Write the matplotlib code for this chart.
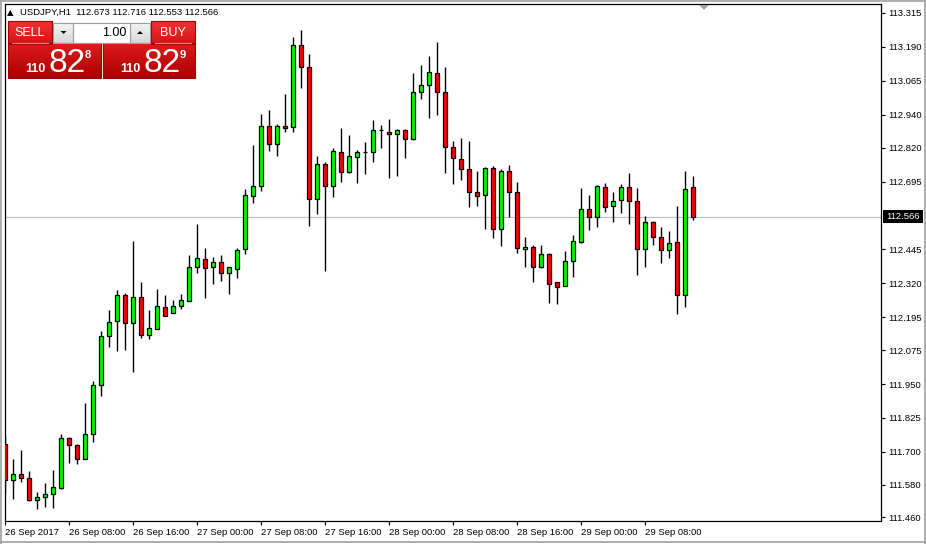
import numpy as np
import pandas as pd
import matplotlib
matplotlib.use("Agg")
import matplotlib.pyplot as plt
from matplotlib.patches import Rectangle, Polygon
from matplotlib.lines import Line2D

# ---------------- data ----------------
symbol = "USDJPY,H1"
start_time = "2017-09-26 00:00"

opens = [111.729, 111.597, 111.619, 111.604, 111.523, 111.534, 111.545, 111.567, 111.751, 111.726,
         111.674, 111.766, 111.946, 112.127, 112.182, 112.278, 112.174, 112.270, 112.130, 112.152,
         112.233, 112.211, 112.237, 112.256, 112.380, 112.410, 112.380, 112.399, 112.358, 112.373,
         112.447, 112.642, 112.679, 112.899, 112.833, 112.899, 112.896, 113.197, 113.116, 112.631,
         112.759, 112.679, 112.804, 112.730, 112.785, 112.804, 112.804, 112.885, 112.877, 112.870,
         112.885, 112.851, 113.024, 113.050, 113.094, 113.024, 112.822, 112.778, 112.741, 112.656,
         112.645, 112.745, 112.520, 112.734, 112.656, 112.447, 112.454, 112.380, 112.428, 112.325,
         112.311, 112.403, 112.472, 112.594, 112.565, 112.675, 112.605, 112.627, 112.675, 112.623,
         112.447, 112.546, 112.491, 112.443, 112.472, 112.278, 112.673]
highs = [111.759, 111.674, 111.707, 111.630, 111.553, 111.586, 111.633, 111.766, 111.755, 111.730,
         111.880, 111.962, 112.146, 112.222, 112.296, 112.285, 112.476, 112.324, 112.222, 112.300,
         112.277, 112.259, 112.281, 112.425, 112.539, 112.450, 112.417, 112.425, 112.382, 112.450,
         112.667, 112.829, 112.943, 112.958, 112.907, 113.017, 113.227, 113.252, 113.164, 112.789,
         112.767, 112.818, 112.892, 112.866, 112.811, 112.840, 112.921, 112.903, 112.925, 112.888,
         112.888, 113.094, 113.124, 113.157, 113.208, 113.116, 112.844, 112.855, 112.844, 112.734,
         112.748, 112.752, 112.741, 112.756, 112.693, 112.491, 112.461, 112.461, 112.432, 112.325,
         112.439, 112.498, 112.671, 112.646, 112.682, 112.690, 112.656, 112.686, 112.726, 112.671,
         112.568, 112.550, 112.528, 112.513, 112.605, 112.734, 112.716]
lows = [111.549, 111.526, 111.589, 111.520, 111.490, 111.497, 111.494, 111.563, 111.659, 111.656,
        111.674, 111.737, 111.907, 112.086, 112.071, 112.075, 111.993, 112.119, 112.116, 112.152,
        112.200, 112.211, 112.226, 112.256, 112.358, 112.267, 112.318, 112.329, 112.281, 112.340,
        112.428, 112.616, 112.660, 112.807, 112.790, 112.877, 112.877, 113.039, 112.531, 112.575,
        112.366, 112.638, 112.693, 112.726, 112.690, 112.723, 112.767, 112.818, 112.708, 112.715,
        112.782, 112.848, 112.999, 112.929, 112.940, 112.726, 112.686, 112.701, 112.601, 112.605,
        112.520, 112.487, 112.458, 112.565, 112.432, 112.380, 112.325, 112.377, 112.248, 112.244,
        112.311, 112.344, 112.469, 112.517, 112.528, 112.583, 112.546, 112.579, 112.539, 112.351,
        112.380, 112.461, 112.395, 112.414, 112.206, 112.233, 112.553]
closes = [111.597, 111.619, 111.604, 111.523, 111.534, 111.545, 111.571, 111.751, 111.726, 111.674,
          111.766, 111.946, 112.127, 112.178, 112.278, 112.174, 112.270, 112.130, 112.156, 112.237,
          112.200, 112.237, 112.259, 112.380, 112.414, 112.377, 112.399, 112.358, 112.380, 112.443,
          112.645, 112.679, 112.899, 112.833, 112.899, 112.892, 113.197, 113.116, 112.631, 112.759,
          112.679, 112.807, 112.730, 112.789, 112.804, 112.803, 112.885, 112.886, 112.870, 112.885,
          112.851, 113.024, 113.050, 113.098, 113.024, 112.822, 112.781, 112.741, 112.656, 112.642,
          112.745, 112.520, 112.734, 112.656, 112.450, 112.454, 112.380, 112.428, 112.318, 112.307,
          112.403, 112.476, 112.594, 112.565, 112.679, 112.601, 112.623, 112.675, 112.623, 112.447,
          112.546, 112.491, 112.443, 112.469, 112.278, 112.667, 112.566]

header_values = ["112.673", "112.716", "112.553", "112.566"]
current_price = 112.566
price_ticks = [113.315, 113.190, 113.065, 112.940, 112.820, 112.695, 112.445, 112.320,
               112.195, 112.075, 111.950, 111.825, 111.700, 111.580, 111.460]
time_tick_labels = ["26 Sep 2017", "26 Sep 08:00", "26 Sep 16:00", "27 Sep 00:00", "27 Sep 08:00",
                    "27 Sep 16:00", "28 Sep 00:00", "28 Sep 08:00", "28 Sep 16:00",
                    "29 Sep 00:00", "29 Sep 08:00"]
time_tick_stamps = ["2017-09-26 00:00", "2017-09-26 08:00", "2017-09-26 16:00", "2017-09-27 00:00",
                    "2017-09-27 08:00", "2017-09-27 16:00", "2017-09-28 00:00", "2017-09-28 08:00",
                    "2017-09-28 16:00", "2017-09-29 00:00", "2017-09-29 08:00"]
sell_price = ("110", "82", "8")
buy_price = ("110", "82", "9")
lot_size = "1.00"

# ---------------- figure ----------------
W, H = 926, 544
fig = plt.figure(figsize=(W / 100, H / 100), dpi=100)
fig.patch.set_facecolor("white")
FONT = "Liberation Sans"
SMALL = 6.8

ax_l, ax_r, ax_t, ax_b = 4.5, 881.5, 4.0, 520.5
ax = fig.add_axes([ax_l / W, 1 - ax_b / H, (ax_r - ax_l) / W, (ax_b - ax_t) / H])
ax.set_facecolor("white")

times = pd.date_range(start_time, periods=len(opens), freq="h")
x = np.arange(len(times))
o = np.array(opens); h = np.array(highs); l = np.array(lows); c = np.array(closes)

# current price line
ax.axhline(current_price, color="#c0c0c0", lw=0.9, zorder=1)

ax.vlines(x, l, h, color="black", lw=1.0, zorder=2)
up = c >= o
body_bottom = np.minimum(o, c)
body_h = np.abs(c - o)
colors = np.where(up, "#00ff00", "#ff0000")
ax.bar(x, body_h, bottom=body_bottom, width=0.5, color=colors, edgecolor="black",
       linewidth=0.9, zorder=3)

px_per_candle = 8.0
ax.set_xlim((ax_l - 5) / px_per_candle, (ax_r - 5) / px_per_candle)
k = 271.8  # px per price unit
ax.set_ylim(113.315 - (ax_b - 13) / k, 113.315 + (13 - ax_t) / k)

for s in ax.spines.values():
    s.set_color("black")
    s.set_linewidth(0.9)

ax.yaxis.tick_right()
ax.set_yticks(price_ticks)
ax.set_yticklabels([f"{v:.3f}" for v in price_ticks], fontsize=SMALL, family=FONT)
ax.tick_params(axis="y", direction="out", length=3, width=0.8, pad=2, colors="black")

tick_pos = [times.get_loc(pd.Timestamp(t)) for t in time_tick_stamps]
ax.set_xticks(tick_pos)
ax.set_xticklabels(time_tick_labels, fontsize=SMALL, family=FONT)
for lbl in ax.get_xticklabels():
    lbl.set_horizontalalignment("left")
ax.tick_params(axis="x", direction="out", length=3, width=0.8, pad=2.5, colors="black")

# current price label
cy = 13 + (113.315 - current_price) * k
fig.patches.append(Rectangle((883 / W, 1 - (cy + 6.5) / H), 40 / W, 13 / H,
                             transform=fig.transFigure, facecolor="black", edgecolor="none", zorder=5))
fig.text(886 / W, 1 - cy / H, f"{current_price:.3f}", color="white", fontsize=SMALL, family=FONT,
         va="center", ha="left", zorder=6)

# window frame lines
for (x0, y0, x1, y1) in [(0, 0.8, W, 0.8), (0.8, 0, 0.8, H), (0, 541.5, W, 541.5), (924.5, 0, 924.5, H)]:
    fig.add_artist(Line2D([x0 / W, x1 / W], [1 - y0 / H, 1 - y1 / H], transform=fig.transFigure,
                          color="#a0a0a0", lw=1.2))

# shift marker
fig.patches.append(Polygon([(699 / W, 1 - 5 / H), (709 / W, 1 - 5 / H), (704 / W, 1 - 10 / H)],
                           closed=True, transform=fig.transFigure, facecolor="#a0a0a0",
                           edgecolor="none"))

# header
fig.text(7 / W, 1 - 12.5 / H, "\u25b2", fontsize=6, family="DejaVu Sans", va="center", ha="left")
fig.text(20 / W, 1 - 12.5 / H, symbol + "  " + " ".join(header_values), fontsize=SMALL,
         family=FONT, va="center", ha="left")


# ---------------- one-click trading panel ----------------
def grad_box(x0, y0, x1, y1, top, bottom, edge=None):
    a = fig.add_axes([x0 / W, 1 - y1 / H, (x1 - x0) / W, (y1 - y0) / H])
    t = np.linspace(0, 1, 64)[:, None, None]
    img = (1 - t) * np.array(top)[None, None, :] + t * np.array(bottom)[None, None, :]
    a.imshow(np.repeat(img, 2, axis=1) / 255.0, aspect="auto", extent=[0, 1, 0, 1],
             interpolation="bilinear")
    a.set_axis_off()
    if edge is not None:
        fig.patches.append(Rectangle((x0 / W, 1 - y1 / H), (x1 - x0) / W, (y1 - y0) / H,
                                     transform=fig.transFigure, facecolor="none",
                                     edgecolor=edge, lw=0.8, zorder=10))
    return a


grad_box(8, 21, 52, 44, (238, 52, 52), (214, 20, 20), "#a00000")
grad_box(151, 21, 195, 44, (238, 52, 52), (214, 20, 20), "#a00000")
grad_box(8, 43, 101, 78, (222, 28, 28), (170, 0, 0), "#a00000")
grad_box(103, 43, 195, 78, (222, 28, 28), (170, 0, 0), "#a00000")
# underline under tabs
for (x0, x1) in [(12, 48), (155, 191)]:
    fig.add_artist(Line2D([x0 / W, x1 / W], [1 - 43 / H, 1 - 43 / H], transform=fig.transFigure,
                          color="#f08080", lw=0.8, zorder=11))

# spinner
grad_box(53, 23, 73, 43, (245, 245, 245), (215, 215, 215), "#a0a0a0")
grad_box(73, 23, 130, 43, (255, 255, 255), (255, 255, 255), "#a0a0a0")
grad_box(130, 23, 150, 43, (245, 245, 245), (215, 215, 215), "#a0a0a0")
fig.patches.append(Polygon([(60.5 / W, 1 - 31 / H), (66.5 / W, 1 - 31 / H), (63.5 / W, 1 - 34 / H)],
                           closed=True, transform=fig.transFigure, facecolor="black", zorder=12))
fig.patches.append(Polygon([(137 / W, 1 - 34 / H), (143 / W, 1 - 34 / H), (140 / W, 1 - 31 / H)],
                           closed=True, transform=fig.transFigure, facecolor="black", zorder=12))
fig.text(126 / W, 1 - 32.5 / H, lot_size, fontsize=9, family=FONT, ha="right", va="center",
         zorder=12)

fig.text(29.5 / W, 1 - 32.5 / H, "SELL", fontsize=9, family=FONT, color="white", ha="center",
         va="center", zorder=12)
fig.text(173 / W, 1 - 32.5 / H, "BUY", fontsize=9, family=FONT, color="white", ha="center",
         va="center", zorder=12)

for (bx, prices) in [(0, sell_price), (95, buy_price)]:
    fig.text((25 + bx) / W, 1 - 72.5 / H, prices[0], fontsize=9.2, family=FONT, weight="bold",
             color="white", ha="left", va="baseline", zorder=12)
    fig.text((48.5 + bx) / W, 1 - 72.5 / H, prices[1], fontsize=24, family=FONT, color="white",
             ha="left", va="baseline", zorder=12)
    fig.text((85 + bx) / W, 1 - 57.5 / H, prices[2], fontsize=8, family=FONT, weight="bold",
             color="white", ha="left", va="baseline", zorder=12)

fig.savefig("out.png", dpi=100)
